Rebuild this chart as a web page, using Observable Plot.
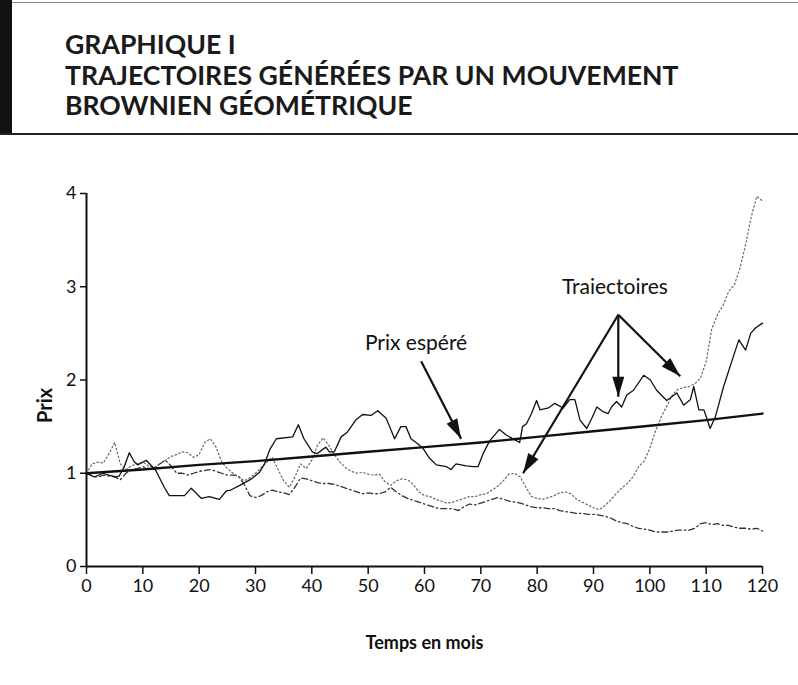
<!DOCTYPE html>
<html><head><meta charset="utf-8">
<script src="https://cdn.jsdelivr.net/npm/d3@7"></script>
<script src="https://cdn.jsdelivr.net/npm/@observablehq/plot@0.6"></script>
<style>
body{margin:0;background:#fff;}
#wrap{position:relative;width:798px;height:685px;overflow:hidden;font-family:Lato,sans-serif;background:#fff;}
#bar{position:absolute;left:0;top:0;width:12px;height:135px;background:#111;}
#topline{position:absolute;left:0;top:2px;width:798px;height:1px;background:#888;}
#midline{position:absolute;left:0;top:133px;width:798px;height:2px;background:#222;}
#leftline{position:absolute;left:9px;top:134px;width:2px;height:551px;background:#222;}
#title{position:absolute;left:65px;top:29px;font-weight:700;font-size:26.6px;line-height:30.5px;color:#1a1a1a;white-space:nowrap;}
#chart{position:absolute;left:0;top:135px;}
</style></head>
<body>
<div id="wrap">
  <div id="topline"></div>
  <div id="bar"></div>
  <div id="midline"></div>
  <div id="leftline"></div>
  <div id="title">GRAPHIQUE I<br>TRAJECTOIRES GÉNÉRÉES PAR UN MOUVEMENT<br>BROWNIEN GÉOMÉTRIQUE</div>
  <div id="chart"></div>
</div>
<script>
// ---- data ----
const xTicks = [0,10,20,30,40,50,60,70,80,90,100,110,120];
const yTicks = [0,1,2,3,4];

// expected price (read at every 10 months)
const expT = [0,10,20,30,40,50,60,70,80,90,100,110,120];
const expV = [1.00,1.04,1.09,1.13,1.18,1.23,1.28,1.33,1.39,1.45,1.51,1.57,1.64];

// solid trajectory (irregular readings)
const solidT = [0,1.4,2.9,4,5.2,5.8,6.7,7.6,8.5,9.1,10.6,11.7,12.3,13.8,14.7,17.4,18.6,20.4,21.8,23.6,24.8,25.6,27.2,29.3,30.7,31.6,32.5,33.7,36.6,37.6,38.6,40.1,40.9,42.5,43.1,44,45.2,46.3,47.8,49,50.5,51.7,53.2,53.8,54.7,55.8,56.7,57.6,58.5,59.7,60.9,62.1,63.9,64.7,65.6,67.4,68.6,69.5,70.4,71.6,73.3,74.5,76.3,76.9,77.4,78.1,79,79.9,80.5,82,83.1,84.6,85.8,86.7,87.6,88.8,89.7,90.6,91.7,92.6,93.2,94.1,95,95.9,97.1,98.9,100.1,101.2,103,104.8,106,107.2,107.8,108.7,109.6,110.1,110.7,111.6,113.1,114.6,115.8,117,117.9,118.8,120];
const solidV = [1.0,0.96,1.0,0.98,0.96,0.97,1.07,1.22,1.12,1.09,1.14,1.07,1.03,0.85,0.76,0.76,0.84,0.73,0.75,0.72,0.81,0.82,0.87,0.94,1.01,1.10,1.25,1.37,1.39,1.52,1.37,1.23,1.21,1.28,1.23,1.23,1.39,1.44,1.57,1.63,1.62,1.67,1.59,1.50,1.37,1.50,1.50,1.37,1.33,1.27,1.16,1.09,1.07,1.04,1.10,1.08,1.07,1.07,1.21,1.35,1.47,1.41,1.35,1.33,1.50,1.53,1.64,1.78,1.68,1.70,1.75,1.70,1.79,1.79,1.57,1.48,1.59,1.71,1.66,1.64,1.71,1.77,1.71,1.84,1.89,2.05,2.00,1.89,1.78,1.86,1.73,1.79,1.93,1.68,1.68,1.59,1.48,1.60,1.93,2.21,2.43,2.32,2.50,2.56,2.61];

// dotted trajectory (monthly readings, months 0..120)
const dottedV = [1.00,1.10,1.12,1.11,1.21,1.33,1.10,1.04,1.08,1.10,1.12,1.08,1.06,1.10,1.14,1.18,1.20,1.23,1.22,1.17,1.20,1.33,1.37,1.28,1.12,1.05,1.00,0.96,0.92,0.95,1.00,1.06,1.12,1.17,1.04,0.92,0.85,0.96,1.10,1.05,1.14,1.30,1.38,1.30,1.20,1.12,1.06,1.02,1.00,1.01,0.99,0.98,0.99,0.91,0.87,0.92,0.94,0.93,0.88,0.80,0.76,0.75,0.72,0.70,0.68,0.69,0.71,0.73,0.75,0.75,0.77,0.78,0.82,0.86,0.92,0.99,1.00,0.96,0.85,0.75,0.73,0.72,0.74,0.76,0.79,0.80,0.78,0.72,0.69,0.66,0.63,0.61,0.65,0.71,0.78,0.84,0.89,0.96,1.07,1.13,1.27,1.45,1.60,1.72,1.84,1.90,1.92,1.93,1.96,2.02,2.20,2.55,2.70,2.80,2.95,3.02,3.20,3.45,3.75,3.97,3.92];

// dashed trajectory (monthly readings, months 0..120)
const dashedV = [1.00,0.97,0.96,0.98,0.97,0.96,0.93,1.00,1.04,1.05,1.07,1.05,1.04,1.10,1.14,1.08,1.00,1.00,0.98,1.00,1.02,1.03,1.04,1.02,1.00,0.98,0.98,0.97,0.88,0.76,0.74,0.76,0.80,0.82,0.80,0.79,0.77,0.85,0.95,0.94,0.92,0.90,0.89,0.89,0.88,0.86,0.84,0.82,0.80,0.78,0.79,0.78,0.78,0.80,0.85,0.80,0.76,0.73,0.71,0.69,0.67,0.65,0.63,0.62,0.62,0.62,0.60,0.64,0.67,0.66,0.68,0.70,0.72,0.74,0.72,0.70,0.69,0.68,0.66,0.64,0.63,0.63,0.62,0.62,0.60,0.59,0.58,0.57,0.57,0.56,0.56,0.55,0.54,0.52,0.49,0.47,0.46,0.43,0.41,0.40,0.39,0.37,0.37,0.37,0.38,0.39,0.39,0.39,0.41,0.46,0.47,0.45,0.46,0.44,0.44,0.42,0.41,0.41,0.40,0.41,0.38];

// annotations
const labelText = ["Prix espéré","Traiectoires"];
const labelX = [58.5, 93.8];
const labelY = [2.39, 2.99];
const arrowX1 = [59.4, 94.4, 94.4, 94.4];
const arrowY1 = [2.20, 2.70, 2.70, 2.70];
const arrowX2 = [66.5, 77.5, 94.4, 105.4];
const arrowY2 = [1.37, 1.00, 1.82, 2.04];

// ---- tables ----
const months = dottedV.map((_, i) => i);
const expected = expT.map((t, i) => ({t, v: expV[i]}));
const solid = solidT.map((t, i) => ({t, v: solidV[i]}));
const dotted = months.map((t, i) => ({t, v: dottedV[i]}));
const dashed = months.map((t, i) => ({t, v: dashedV[i]}));
const labels = labelText.map((s, i) => ({s, x: labelX[i], y: labelY[i]}));
const arrows = arrowX1.map((x1, i) => ({x1, y1: arrowY1[i], x2: arrowX2[i], y2: arrowY2[i]}));

function head(color, context) {
  const m = d3.create("svg:marker")
    .attr("viewBox", "-20 -6 20 12")
    .attr("markerWidth", 20).attr("markerHeight", 12)
    .attr("markerUnits", "userSpaceOnUse")
    .attr("orient", "auto").attr("refX", 0).attr("refY", 0)
    .attr("overflow", "visible");
  m.append("path").attr("d", "M-20,-6L0,0L-20,6Z").attr("fill", "#111").attr("stroke", "none");
  return m.node();
}

const chart = Plot.plot({
  width: 798, height: 550,
  marginLeft: 86, marginRight: 36, marginTop: 58, marginBottom: 119,
  style: {fontFamily: "Lato, sans-serif", fontSize: "17px", color: "#111", background: "white", overflow: "visible"},
  x: {domain: [0, 120]},
  y: {domain: [0, 4]},
  marks: [
    Plot.axisX({ticks: xTicks, tickSize: 8, tickPadding: 5, label: null, strokeWidth: 1.5, fontSize: 18, tickFormat: d => String(d)}),
    Plot.axisY({ticks: yTicks, tickSize: 6, tickPadding: 4, label: null, strokeWidth: 1.5, fontSize: 18, tickFormat: d => String(d)}),
    Plot.ruleY([0], {x1: 0, x2: 120, stroke: "#111", strokeWidth: 2}),
    Plot.ruleX([0], {y1: 0, y2: 4, stroke: "#111", strokeWidth: 2}),
    Plot.line(dashed, {x: "t", y: "v", stroke: "#333", strokeWidth: 1.3, strokeDasharray: "6 3 1.5 3"}),
    Plot.line(dotted, {x: "t", y: "v", stroke: "#666", strokeWidth: 1.2, strokeDasharray: "1.5 2.5"}),
    Plot.line(solid, {x: "t", y: "v", stroke: "#111", strokeWidth: 1.3}),
    Plot.line(expected, {x: "t", y: "v", stroke: "#111", strokeWidth: 2.4}),
    Plot.link(arrows, {x1: "x1", y1: "y1", x2: "x2", y2: "y2", stroke: "#111", strokeWidth: 2.2, markerEnd: head}),
    Plot.text(labels, {x: "x", y: "y", text: "s", fontSize: 21, fill: "#111"}),
    Plot.text(["Temps en mois"], {frameAnchor: "bottom", dy: 82, fontSize: 18, fontWeight: "bold", fill: "#111"}),
    Plot.text(["Prix"], {frameAnchor: "left", dx: -41, dy: 43, rotate: -90, fontSize: 20, fontWeight: "bold", fill: "#111"})
  ]
});
document.getElementById("chart").appendChild(chart);
</script>
</body></html>
